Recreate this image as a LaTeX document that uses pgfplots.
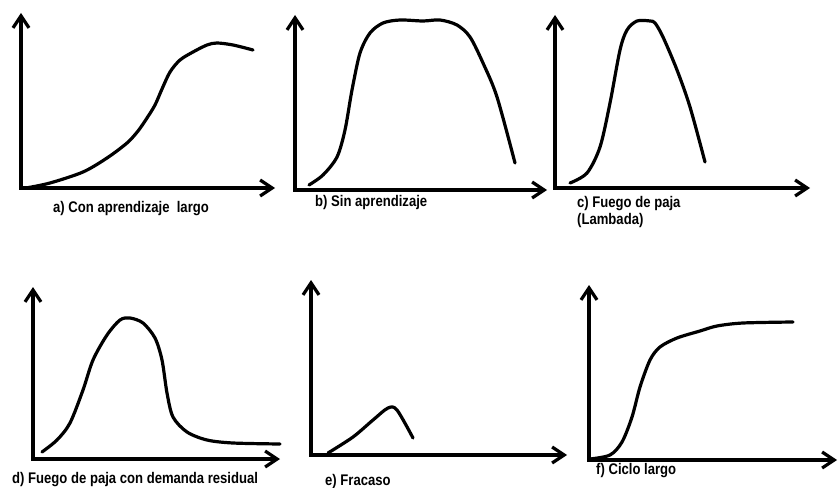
\documentclass[border=0pt]{standalone}
\usepackage{pgfplots}
\pgfplotsset{compat=1.18}
\usepackage{fontspec}
\setmainfont{Liberation Sans}
\newfontfamily\labfont{Liberation Sans}[FakeStretch=0.85]
\usetikzlibrary{arrows.meta}
\tikzset{
  ax/.style={line width=3.2bp, line join=miter, line cap=butt, {Straight Barb[length=12bp,width=16bp]}-{Straight Barb[length=12bp,width=16bp]}},
  lab/.style={anchor=base west, inner sep=0pt, font=\labfont\bfseries\fontsize{15.4bp}{17bp}\selectfont},
}
\begin{document}
\begin{tikzpicture}
\path[use as bounding box] (0,0) rectangle (838bp,488bp);
\clip (0,0) rectangle (838bp,488bp);
\begin{axis}[
  at={(0,0)}, anchor=south west,
  width=838bp, height=488bp, scale only axis,
  xmin=0, xmax=838, ymin=0, ymax=488, y dir=reverse,
  hide axis, clip=false,
  every axis plot/.append style={black, line width=3.2bp, line join=round, line cap=round},
]
% axes
\addplot[ax] coordinates {(21,13) (21,188) (275,188)};
\addplot[ax] coordinates {(295,15) (295,190) (547,190)};
\addplot[ax] coordinates {(555,15) (555,188) (810,188)};
\addplot[ax] coordinates {(33,287) (33,459) (280,459)};
\addplot[ax] coordinates {(311,280) (311,455) (567,455)};
\addplot[ax] coordinates {(589,285) (589,460) (837,460)};
% a) Con aprendizaje largo
\addplot[smooth] coordinates {(26,188) (50,183) (83,172) (107,158) (127,143) (138,131) (147,118) (155,105) (162,89) (170,72) (180,60) (193,52) (207,45) (217,43) (233,45) (253,50)};
% b) Sin aprendizaje
\addplot[smooth] coordinates {(309,185) (323,175) (337,157) (345,130) (352,90) (360,53) (370,33) (383,23) (400,20) (423,21) (440,20) (457,25) (470,37) (483,63) (497,97) (515,163)};
% c) Fuego de paja
\addplot[smooth] coordinates {(570,183) (587,173) (600,147) (610,103) (620,50) (627,30) (637,21) (650,21) (655,23) (663,37) (677,70) (690,107) (705,162)};
% d) Fuego de paja con demanda residual
\addplot[smooth] coordinates {(42,452) (57,440) (70,423) (83,390) (93,360) (107,335) (120,320) (130,318) (143,323) (155,338) (162,360) (167,393) (173,417) (187,432) (207,440) (233,443) (280,444)};
% e) Fracaso
\addplot[smooth] coordinates {(328,453) (353,437) (373,420) (388,408) (397,410) (413,438)};
% f) Ciclo largo
\addplot[smooth] coordinates {(590,459) (610,455) (622,442) (632,417) (640,387) (650,360) (660,347) (677,338) (700,331) (717,326) (743,323) (793,322)};
% labels
\node[lab] at (axis cs:53,212) {a) Con aprendizaje\ \ largo};
\node[lab] at (axis cs:315,206) {b) Sin aprendizaje};
\node[lab] at (axis cs:577,207) {c) Fuego de paja};
\node[lab] at (axis cs:577,224) {(Lambada)};
\node[lab] at (axis cs:12,483) {d) Fuego de paja con demanda residual};
\node[lab] at (axis cs:325,485) {e) Fracaso};
\node[lab] at (axis cs:596,474) {f) Ciclo largo};
\end{axis}
\end{tikzpicture}
\end{document}
